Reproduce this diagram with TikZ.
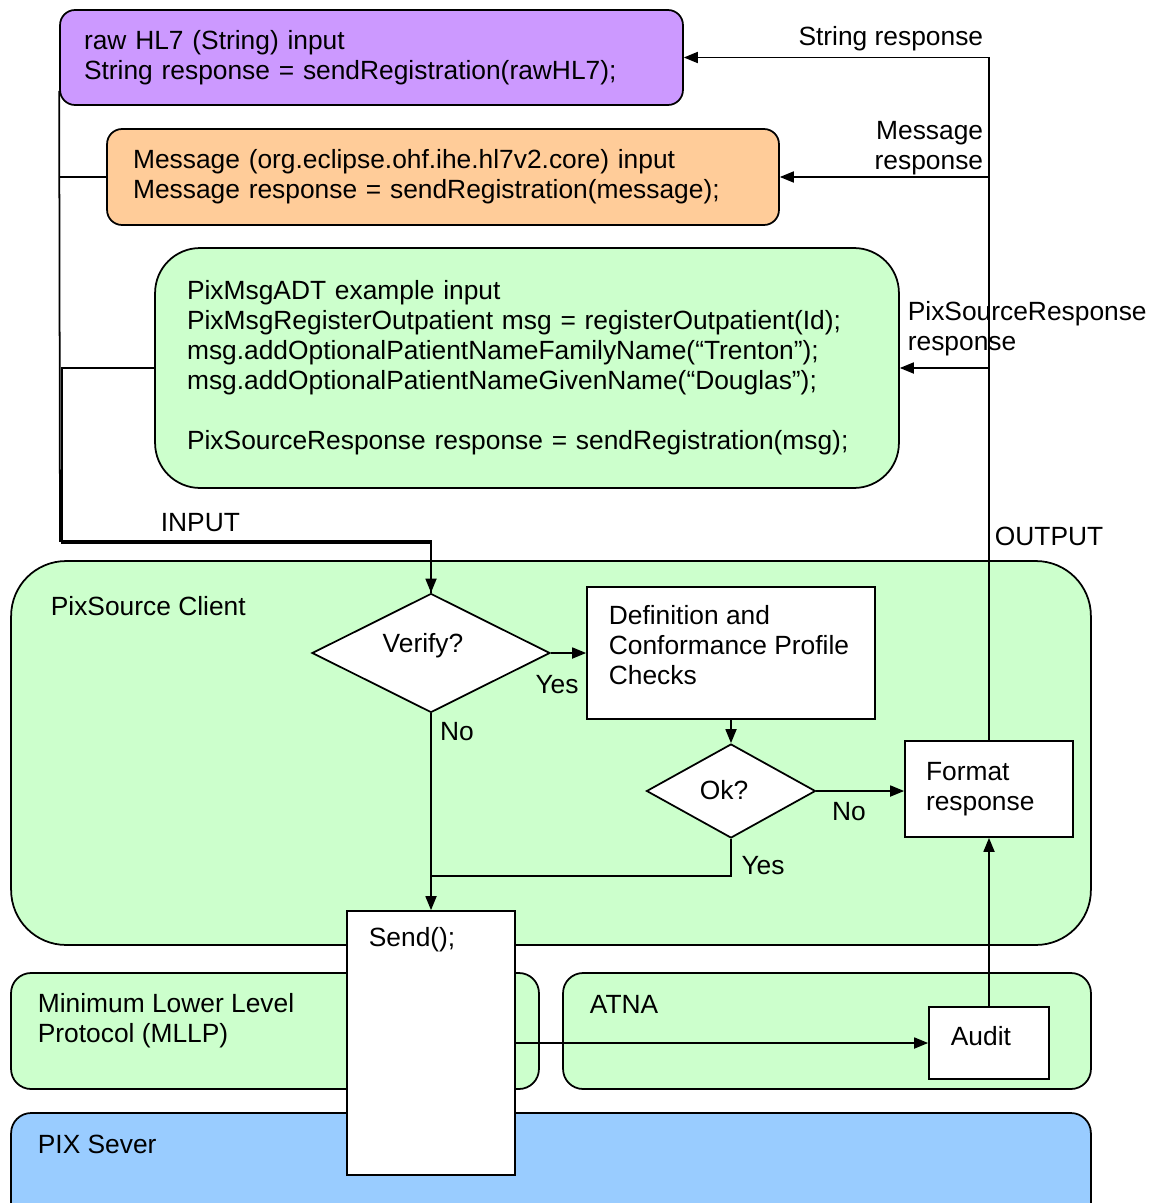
\documentclass[tikz,border=0pt]{standalone}
\usepackage{fontspec}
\setmainfont{Liberation Sans}
\usetikzlibrary{shapes.geometric, arrows.meta}

\definecolor{rawpurple}{HTML}{CC99FF}
\definecolor{msgorange}{HTML}{FFCC99}
\definecolor{clientgreen}{HTML}{CCFFCC}
\definecolor{serverblue}{HTML}{99CCFF}

\tikzset{
  every node/.style={font=\fontsize{15}{17.1}\selectfont, inner sep=0pt},
  box/.style={draw, line width=1pt, align=left},
  boxsize/.style 2 args={minimum width=#1, minimum height=#2},
  decision/.style={draw, line width=1pt, diamond, fill=white},
}

\begin{document}
\begin{tikzpicture}[x=0.02cm, y=-0.02cm, line width=1pt,
  >={Triangle[length=0.28cm, width=0.22cm]}]

  % Define coordinates
  \coordinate (in1) at (60,541);
  \coordinate (in2) at (62,543);
  \coordinate (yesjoin) at (431,876);

  \clip (0,0) rectangle (1150,1203);

  % Draw the layers
  \node[box, rounded corners=1.1cm, fill=clientgreen, boxsize={21.6cm}{7.68cm}] (client) at (551,753) {};
  \node[box, rounded corners=0.4cm, fill=clientgreen, boxsize={10.56cm}{2.32cm}] (mllp) at (275,1031) {};
  \node[box, rounded corners=0.4cm, fill=clientgreen, boxsize={10.56cm}{2.32cm}] (atna) at (827,1031) {};
  \node[box, rounded corners=0.4cm, fill=serverblue, boxsize={21.6cm}{2.32cm}] (pix) at (551,1171) {};

  % Draw the input boxes
  \node[box, rounded corners=0.3cm, fill=rawpurple, boxsize={12.46cm}{1.9cm}, text width=11.5cm] (raw) at (371.5,57.5)
    {raw HL7 (String) input\\String response = sendRegistration(rawHL7);};
  \node[box, rounded corners=0.3cm, fill=msgorange, boxsize={13.44cm}{1.92cm}, text width=12.4cm] (msg) at (443,177)
    {Message (org.eclipse.ohf.ihe.hl7v2.core) input\\Message response = sendRegistration(message);};
  \node[box, rounded corners=0.9cm, fill=clientgreen, boxsize={14.88cm}{4.8cm}, text width=13.6cm] (adt) at (527,368)
    {PixMsgADT example input\\
     PixMsgRegisterOutpatient msg = registerOutpatient(Id);\\
     msg.addOptionalPatientNameFamilyName(“Trenton”);\\
     msg.addOptionalPatientNameGivenName(“Douglas”);\\[17.1pt]
     PixSourceResponse response = sendRegistration(msg);};

  % Draw the client steps
  \node[box, fill=white, boxsize={5.76cm}{2.64cm}] (checks) at (731,653) {};
  \node[box, fill=white, boxsize={3.36cm}{1.92cm}, text width=2.52cm] (format) at (989,789) {Format\\response};
  \node[box, fill=white, boxsize={2.4cm}{1.44cm}] (audit) at (989,1043) {};
  \node[decision, boxsize={4.76cm}{2.38cm}] (verify) at (431,653) {};
  \node[decision, boxsize={3.38cm}{1.88cm}] (ok) at (731,791) {};
  \node[box, fill=white, boxsize={3.36cm}{5.28cm}] (send) at (431,1043) {};

  % Texts
  \node[anchor=west, align=left] (checkstxt) at (608,645) {Definition and\\Conformance Profile\\Checks};
  \node (verifytxt) at (423,646) {Verify?};
  \node (oktxt) at (724,790) {Ok?};
  \node[anchor=west] (audittxt) at (950,1036) {Audit};
  \node[anchor=west] (clienttxt) at (50,606) {PixSource Client};
  \node[anchor=west, align=left] (mllptxt) at (37,1020.5) {Minimum Lower Level\\Protocol (MLLP)};
  \node[anchor=west] (atnatxt) at (589,1004) {ATNA};
  \node[anchor=west] (pixtxt) at (37,1144) {PIX Sever};
  \node[anchor=west] (sendtxt) at (368,940) {Send();};
  \node[anchor=east] (strresp) at (984,39) {String response};
  \node[anchor=east, align=right] (msgresp) at (984,148) {Message\\response};
  \node[anchor=west, align=left] (adtresp) at (907,329) {PixSourceResponse\\response};
  \node[anchor=west] (inputtxt) at (160,523) {INPUT};
  \node[anchor=west] (outputtxt) at (994,536) {OUTPUT};
  \node (yes1) at (557,685) {Yes};
  \node (no1) at (457,732) {No};
  \node (no2) at (849,812) {No};
  \node (yes2) at (763,866) {Yes};

  % Input lines
  \draw[->] ([yshift=0.3cm]raw.south west) -- (in1) -| (verify.north);
  \draw (msg.west) -- (msg.west -| in1);
  \draw (adt.west) -| (in2) -| (verify.north);

  % Output lines
  \draw[->] (format.north) |- (raw.east);
  \draw[->] (msg.east -| format.north) -- (msg.east);
  \draw[->] (adt.east -| format.north) -- (adt.east);

  % Flow inside the client
  \draw[->] (verify.east) -- (checks.west);
  \draw[->] (checks.south) -- (ok.north);
  \draw[->] (ok.east) -- (ok.east -| format.west);
  \draw (ok.south) |- (yesjoin);
  \draw[->] (verify.south) -- (send.north);
  \draw[->] (send.east |- audit.west) -- (audit.west);
  \draw[->] (audit.north) -- (format.south);

\end{tikzpicture}
\end{document}
